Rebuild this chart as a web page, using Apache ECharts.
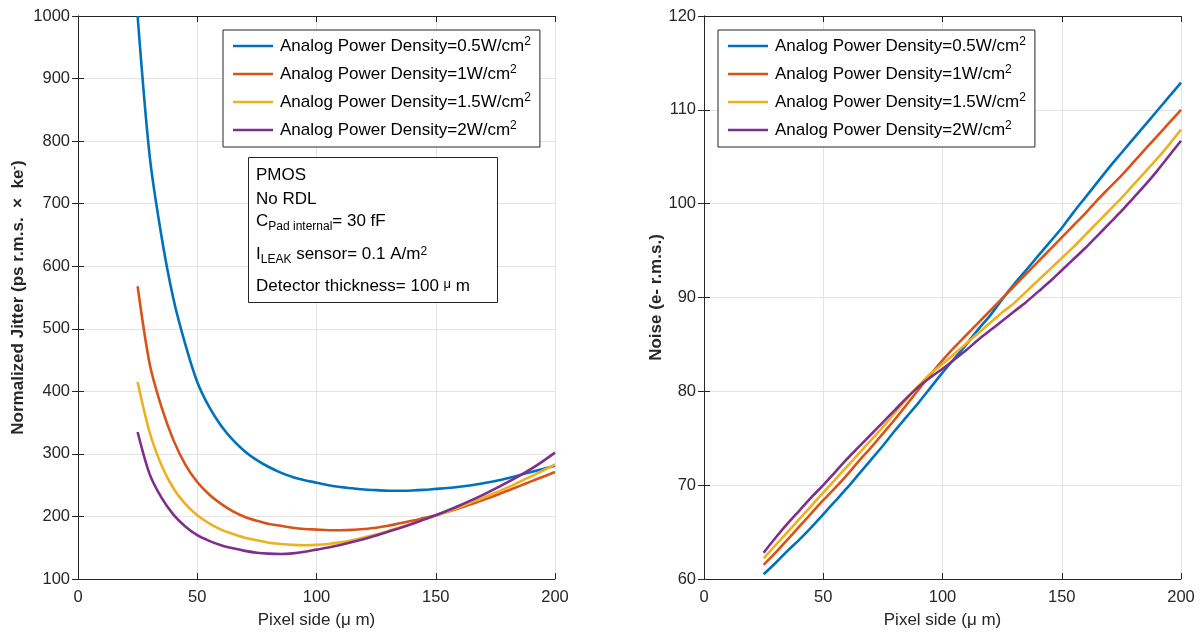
<!DOCTYPE html>
<html>
<head>
<meta charset="utf-8">
<script src="https://cdn.jsdelivr.net/npm/echarts@6/dist/echarts.min.js"></script>
<style>
html,body{margin:0;padding:0;background:#fff;}
#main{width:1200px;height:635px;}
</style>
</head>
<body>
<div id="main"></div>
<script>
// ---- Data ----
const pixelSide = [25,30,35,40,45,50,55,60,65,70,75,80,85,90,95,100,105,110,115,120,125,130,135,140,145,150,155,160,165,170,175,180,185,190,195,200];
const seriesNames = [
  'Analog Power Density=0.5W/cm2',
  'Analog Power Density=1W/cm2',
  'Analog Power Density=1.5W/cm2',
  'Analog Power Density=2W/cm2'
];
const jitter05 = [1000,778,648,548,475,415,375,345,322,304,290,279,270,263,258,254,250,247,245,243,242,241,241,241.5,242.5,244,245.5,247.5,250,253,256.5,261,266,271,276,281];
const jitter1  = [568,445,375,322,283,255,235,220,208,199,193,188,185,182,180,179,178,178,178.5,180,182,185,189,193,197.5,202,207.5,213.5,220,226.5,233.5,241,248.5,256,263.5,271];
const jitter15 = [415,335,282,245,220,202,189,179,172,166,162,158,156,154.5,154,154.5,156,158.5,162,166.5,171,176.5,182.5,188.5,195,201.5,208,215,222.5,230,238,246,255,264,273.5,283];
const jitter2  = [335,268,230,203,184,170,161,154,149,145,142,140.5,140,141,143.5,147,150.5,154.5,159,164,169.5,175.5,181.5,188,195,202,209.5,217.5,226,235,244.5,254.5,265,276,288.5,302];
const noise05 = [60.5,61.7,63.0,64.2,65.5,66.9,68.3,69.7,71.2,72.7,74.2,75.8,77.3,78.8,80.4,82.0,83.5,85.0,86.6,88.1,89.8,91.4,92.9,94.4,95.9,97.4,99.1,100.7,102.3,103.9,105.4,106.9,108.4,109.9,111.4,112.9];
const noise1  = [61.5,62.8,64.2,65.6,67.0,68.4,69.7,71.1,72.6,74.0,75.5,77.0,78.6,80.2,81.8,83.3,84.7,86.0,87.3,88.6,89.9,91.2,92.5,93.8,95.1,96.4,97.7,99.0,100.4,101.7,103.0,104.4,105.8,107.2,108.6,110.0];
const noise15 = [62.2,63.6,65.0,66.4,67.8,69.2,70.6,72.0,73.4,74.8,76.2,77.7,79.2,80.6,81.9,82.9,84.0,85.1,86.2,87.3,88.4,89.4,90.6,91.8,93.0,94.2,95.4,96.7,98.0,99.3,100.6,102.0,103.4,104.8,106.3,107.9];
const noise2  = [62.8,64.4,65.9,67.3,68.7,70.0,71.4,72.8,74.1,75.4,76.7,78.0,79.3,80.5,81.5,82.4,83.4,84.4,85.5,86.5,87.5,88.5,89.5,90.6,91.7,92.9,94.1,95.3,96.6,97.9,99.2,100.6,102.0,103.5,105.1,106.7];
const xTicks = [0,50,100,150,200];
const jitterTicks = [100,200,300,400,500,600,700,800,900,1000];
const noiseTicks = [60,70,80,90,100,110,120];

// ---- Styling ----
const colors = ['#0072BD','#D95319','#EDB120','#7E2F8E'];
const FONT = 'Liberation Sans, Arial, sans-serif';
const AX = '#262626';
const chart = echarts.init(document.getElementById('main'));

function zip(xs, ys){ return xs.map((x,i)=>[x, ys[i]]); }
const jitterSets = [jitter05, jitter1, jitter15, jitter2];
const noiseSets = [noise05, noise1, noise15, noise2];

function mainX(gi){
  return {
    type:'value', gridIndex:gi, min:xTicks[0], max:xTicks[xTicks.length-1], interval:50,
    name:'Pixel side (μ m)', nameLocation:'middle', nameGap:33,
    nameTextStyle:{fontFamily:FONT, fontSize:17, color:AX},
    axisLine:{show:true, lineStyle:{color:AX, width:1}},
    axisTick:{show:true, inside:true, length:6, lineStyle:{color:AX}},
    axisLabel:{fontFamily:FONT, fontSize:16.5, color:AX, margin:10, formatter:v=>String(v)},
    splitLine:{show:true, lineStyle:{color:'#e3e3e3', width:1}}
  };
}
function topX(gi){
  return {
    type:'value', gridIndex:gi, position:'top', min:xTicks[0], max:xTicks[xTicks.length-1], interval:50,
    axisLine:{show:true, lineStyle:{color:AX, width:1}},
    axisTick:{show:true, inside:true, length:6, lineStyle:{color:AX}},
    axisLabel:{show:false}, splitLine:{show:false}
  };
}
function mainY(gi, ticks, name){
  return {
    type:'value', gridIndex:gi, min:ticks[0], max:ticks[ticks.length-1], interval:ticks[1]-ticks[0],
    name:name, nameLocation:'middle', nameRotate:90,
    nameGap: gi===0 ? 50 : 38,
    nameTextStyle:{fontFamily:FONT, fontSize:17, color:AX, fontWeight:'bold',
      rich:{sup:{fontFamily:FONT, fontSize:11, color:AX, fontWeight:'bold', padding:[0,0,9,0]}}},
    axisLine:{show:true, lineStyle:{color:AX, width:1}},
    axisTick:{show:true, inside:true, length:6, lineStyle:{color:AX}},
    axisLabel:{fontFamily:FONT, fontSize:16.5, color:AX, margin:8, formatter:v=>String(v)},
    splitLine:{show:true, lineStyle:{color:'#e3e3e3', width:1}}
  };
}
function rightY(gi, ticks){
  return {
    type:'value', gridIndex:gi, position:'right', min:ticks[0], max:ticks[ticks.length-1], interval:ticks[1]-ticks[0],
    axisLine:{show:true, lineStyle:{color:AX, width:1}},
    axisTick:{show:true, inside:true, length:6, lineStyle:{color:AX}},
    axisLabel:{show:false}, splitLine:{show:false}
  };
}

const series = [];
jitterSets.forEach((d,i)=>series.push({
  name:seriesNames[i], type:'line', xAxisIndex:0, yAxisIndex:0, data:zip(pixelSide,d),
  symbol:'none', smooth:0.3, lineStyle:{color:colors[i], width:2.6}, itemStyle:{color:colors[i]}, z:3
}));
noiseSets.forEach((d,i)=>series.push({
  name:seriesNames[i], type:'line', xAxisIndex:2, yAxisIndex:2, data:zip(pixelSide,d),
  symbol:'none', smooth:0.3, lineStyle:{color:colors[i], width:2.6}, itemStyle:{color:colors[i]}, z:3
}));

function legendFmt(name){
  return name.replace(/cm2$/, 'cm{sup|2}');
}
function makeLegend(left){
  return {
    left:left, top:30, orient:'vertical', data:seriesNames,
    itemWidth:40, itemHeight:14, itemGap:8,
    icon:'path://M0,0 L40,0 L40,2.6 L0,2.6 Z',
    backgroundColor:'#fff', borderColor:'#262626', borderWidth:1, padding:[6,9,7,10],
    formatter:legendFmt, selectedMode:false,
    textStyle:{fontFamily:FONT, fontSize:17, color:'#000', lineHeight:20, padding:[0,0,0,2],
      rich:{sup:{fontFamily:FONT, fontSize:12, color:'#000', lineHeight:12, padding:[0,0,8,0]}}}
  };
}

function boxLine(text, yTop){
  return {type:'text', left:256, top:yTop, z:51,
    style:{text:text, fontFamily:FONT, fontSize:17, fill:'#000',
      rich:{
        m:{fontFamily:FONT, fontSize:17, fill:'#000', lineHeight:20, verticalAlign:'top'},
        sub:{fontFamily:FONT, fontSize:12, fill:'#000', lineHeight:12, padding:[15,0,0,0], verticalAlign:'bottom'},
        sup:{fontFamily:FONT, fontSize:12, fill:'#000', lineHeight:12, verticalAlign:'top', padding:[0,0,0,0]},
        mu:{fontFamily:FONT, fontSize:13, fill:'#000', lineHeight:20, verticalAlign:'top'}
      }}};
}

const option = {
  backgroundColor:'#fff',
  animation:false,
  color:colors,
  grid:[
    {left:78, right:645, top:16, bottom:56, show:false},
    {left:704, right:19, top:16, bottom:56, show:false}
  ],
  xAxis:[mainX(0), topX(0), mainX(1), topX(1)],
  yAxis:[
    mainY(0, jitterTicks, 'Normalized Jitter (ps r.m.s.  ×  ke{sup|-})'),
    rightY(0, jitterTicks),
    mainY(1, noiseTicks, 'Noise (e- r.m.s.)'),
    rightY(1, noiseTicks)
  ],
  legend:[makeLegend(223), makeLegend(718)],
  series:series,
  graphic:[
    {type:'rect', left:248, top:157, shape:{width:249, height:145},
     style:{fill:'#fff', stroke:'#262626', lineWidth:1}, z:50},
    boxLine('{m|PMOS}', 167),
    boxLine('{m|No RDL}', 191),
    boxLine('{m|C}{sub|Pad internal}{m|= 30 fF}', 206),
    boxLine('{m|I}{sub|LEAK}{m| sensor= 0.1 A/m}{sup|2}', 239),
    boxLine('{m|Detector thickness= 100 }{mu|μ}{m| m}', 278)
  ]
};
chart.setOption(option);
</script>
</body>
</html>
